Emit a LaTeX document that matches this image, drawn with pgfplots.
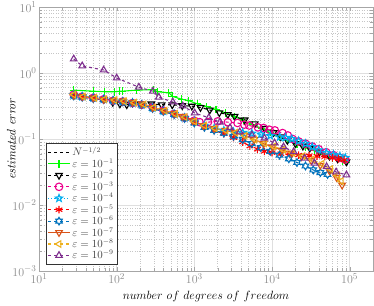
\documentclass[border=0pt]{standalone}
\usepackage{pgfplots}
\pgfplotsset{compat=1.18}
\definecolor{mblue}{rgb}{0,0.447,0.741}
\definecolor{morange}{rgb}{0.85,0.325,0.098}
\definecolor{myellow}{rgb}{0.929,0.694,0.125}
\definecolor{mpurple}{rgb}{0.494,0.184,0.556}
\pgfdeclareplotmark{pentagram}{%
  \pgfpathmoveto{\pgfqpointpolar{90}{\pgfplotmarksize}}%
  \pgfpathlineto{\pgfqpointpolar{126}{0.42\pgfplotmarksize}}%
  \pgfpathlineto{\pgfqpointpolar{162}{\pgfplotmarksize}}%
  \pgfpathlineto{\pgfqpointpolar{198}{0.42\pgfplotmarksize}}%
  \pgfpathlineto{\pgfqpointpolar{234}{\pgfplotmarksize}}%
  \pgfpathlineto{\pgfqpointpolar{270}{0.42\pgfplotmarksize}}%
  \pgfpathlineto{\pgfqpointpolar{306}{\pgfplotmarksize}}%
  \pgfpathlineto{\pgfqpointpolar{342}{0.42\pgfplotmarksize}}%
  \pgfpathlineto{\pgfqpointpolar{18}{\pgfplotmarksize}}%
  \pgfpathlineto{\pgfqpointpolar{54}{0.42\pgfplotmarksize}}%
  \pgfpathclose\pgfusepathqstroke}
\pgfdeclareplotmark{hexagram}{%
  \pgfpathmoveto{\pgfqpointpolar{90}{\pgfplotmarksize}}%
  \pgfpathlineto{\pgfqpointpolar{120}{0.58\pgfplotmarksize}}%
  \pgfpathlineto{\pgfqpointpolar{150}{\pgfplotmarksize}}%
  \pgfpathlineto{\pgfqpointpolar{180}{0.58\pgfplotmarksize}}%
  \pgfpathlineto{\pgfqpointpolar{210}{\pgfplotmarksize}}%
  \pgfpathlineto{\pgfqpointpolar{240}{0.58\pgfplotmarksize}}%
  \pgfpathlineto{\pgfqpointpolar{270}{\pgfplotmarksize}}%
  \pgfpathlineto{\pgfqpointpolar{300}{0.58\pgfplotmarksize}}%
  \pgfpathlineto{\pgfqpointpolar{330}{\pgfplotmarksize}}%
  \pgfpathlineto{\pgfqpointpolar{0}{0.58\pgfplotmarksize}}%
  \pgfpathlineto{\pgfqpointpolar{30}{\pgfplotmarksize}}%
  \pgfpathlineto{\pgfqpointpolar{60}{0.58\pgfplotmarksize}}%
  \pgfpathclose\pgfusepathqstroke}
\begin{document}
\begin{tikzpicture}
\begin{axis}[
  scale only axis, width=334bp, height=264bp,
  xmode=log, ymode=log,
  xmin=10, xmax=2e5, ymin=1e-3, ymax=10,
  xtick={10,100,1000,10000,100000},
  ytick={0.001,0.01,0.1,1,10},
  grid=both,
  major grid style={gray!25, line width=0.7pt},
  minor grid style={gray!45, dotted},
  axis line style={gray!70, line width=0.7pt},
  tick style={gray!70},
  tick label style={text=gray!90, font=\fontsize{13}{15}\selectfont},
  xticklabel style={yshift=1pt},
  yticklabel style={xshift=1pt},
  xlabel={$number\ of\ degrees\ of\ freedom$},
  ylabel={\textit{estimated error}},
  every axis x label/.style={at={(axis description cs:0.5,-0.095)}, anchor=center, font=\fontsize{12.5}{14}\selectfont},
  every axis y label/.style={at={(axis description cs:-0.083,0.5)}, anchor=center, rotate=90, font=\fontsize{12.5}{14}\selectfont},
  every axis plot/.append style={line width=1.1pt, mark size=3.8pt},
  legend style={at={(0.021,0.026)}, anchor=south west, font=\fontsize{10.5}{12}\selectfont,
    draw=black!80, text=black!75, row sep=-2.5pt, inner sep=1.5pt,
    /tikz/every even column/.append style={column sep=0pt}},
  legend cell align=left,
  legend image code/.code={\draw[mark repeat=2,mark phase=2] plot coordinates {(0cm,0cm)(0.38cm,0cm)(0.76cm,0cm)};},
]
\addlegendimage{black, dashed, line width=1.1pt}
\addlegendentry{$N^{-1/2}$}

\addplot[color=green, solid, mark=+] coordinates {
(28,0.55)(50,0.53)(70,0.52)(95,0.52)(110,0.53)(118,0.53)(180,0.55)(300,0.56)(340,0.52)(470,0.50)(530,0.44)(690,0.40)(850,0.38)(1100,0.34)(1450,0.31)(1900,0.28)(2500,0.25)(3300,0.22)(4300,0.19)(5600,0.165)(7300,0.145)(9500,0.125)(12500,0.108)(16000,0.095)(21000,0.083)(27000,0.074)(35000,0.066)(46000,0.058)(60000,0.052)(80000,0.046)(90000,0.044)};
\addlegendentry{$\varepsilon=10^{-1}$}

\addplot[color=black, dashed, mark=triangle, mark options={solid, rotate=180}] coordinates {
(28,0.46)(36,0.44)(50,0.42)(68,0.40)(89,0.36)(110,0.34)(135,0.33)(160,0.35)(200,0.34)(280,0.34)(380,0.33)(520,0.33)(700,0.32)(930,0.315)(1200,0.30)(1580,0.275)(2100,0.25)(2700,0.235)(3300,0.22)(4450,0.195)(6000,0.17)(8000,0.145)(10500,0.125)(13000,0.108)(15800,0.095)(20000,0.085)(25000,0.078)(30700,0.073)(41000,0.0635)(55000,0.055)(70000,0.05)(91000,0.045)};
\addlegendentry{$\varepsilon=10^{-2}$}

\addplot[color=magenta, dashed, mark=o, mark options={solid}] coordinates {
(28,0.47)(36,0.44)(50,0.42)(68,0.40)(90,0.38)(120,0.37)(160,0.35)(210,0.33)(290,0.30)(400,0.27)(550,0.24)(750,0.21)(1000,0.19)(1170,0.18)(1500,0.18)(2000,0.185)(2700,0.18)(3600,0.175)(4400,0.165)(5100,0.16)(6600,0.15)(7800,0.147)(9300,0.138)(10900,0.135)(13700,0.123)(16000,0.113)(18500,0.1)(22000,0.092)(27000,0.085)(33000,0.077)(40000,0.07)(50000,0.063)(62000,0.057)(75000,0.052)(88000,0.049)};
\addlegendentry{$\varepsilon=10^{-3}$}

\addplot[color=cyan, dotted, mark=pentagram, mark options={solid}] coordinates {
(28,0.46)(36,0.44)(50,0.42)(68,0.40)(90,0.385)(120,0.37)(160,0.355)(210,0.33)(290,0.295)(400,0.265)(550,0.24)(750,0.21)(1000,0.185)(1350,0.16)(1800,0.145)(2400,0.135)(3200,0.128)(4200,0.125)(5500,0.122)(7200,0.118)(9500,0.112)(12600,0.107)(15000,0.105)(18000,0.1)(22000,0.093)(27000,0.085)(33000,0.076)(40000,0.068)(50000,0.062)(62000,0.058)(75000,0.055)(88000,0.052)};
\addlegendentry{$\varepsilon=10^{-4}$}

\addplot[color=red, dashed, mark=asterisk, mark options={solid}] coordinates {
(28,0.45)(36,0.43)(50,0.41)(68,0.39)(90,0.38)(120,0.37)(160,0.35)(210,0.33)(290,0.29)(400,0.26)(550,0.235)(750,0.205)(1000,0.175)(1350,0.15)(1800,0.135)(2400,0.12)(3200,0.105)(4200,0.09)(5200,0.078)(6500,0.07)(8000,0.065)(10000,0.062)(13000,0.06)(17000,0.058)(22000,0.057)(30000,0.056)(38000,0.055)(48000,0.054)(60000,0.052)(72000,0.05)(85000,0.048)};
\addlegendentry{$\varepsilon=10^{-5}$}

\addplot[color=mblue, dashed, mark=hexagram, mark options={solid}] coordinates {
(28,0.45)(36,0.43)(50,0.41)(68,0.395)(90,0.38)(120,0.365)(160,0.35)(210,0.33)(290,0.29)(400,0.26)(550,0.235)(750,0.205)(1000,0.175)(1350,0.15)(1800,0.135)(2400,0.123)(3200,0.11)(4200,0.098)(5500,0.085)(7200,0.074)(9500,0.065)(12500,0.057)(16500,0.05)(21000,0.044)(27000,0.039)(34000,0.034)(42000,0.031)(52000,0.029)};
\addlegendentry{$\varepsilon=10^{-6}$}

\addplot[color=morange, solid, mark=triangle, mark options={solid, rotate=180}] coordinates {
(28,0.46)(36,0.44)(50,0.42)(68,0.40)(90,0.39)(120,0.38)(160,0.36)(210,0.34)(290,0.30)(400,0.27)(550,0.245)(700,0.22)(950,0.19)(1300,0.16)(1800,0.145)(2500,0.135)(3300,0.125)(4400,0.113)(5900,0.098)(7800,0.085)(10200,0.076)(13500,0.068)(18000,0.061)(24000,0.054)(32000,0.047)(42000,0.04)(55000,0.033)(68000,0.026)(80000,0.02)};
\addlegendentry{$\varepsilon=10^{-7}$}

\addplot[color=myellow, dashed, mark=triangle, mark options={solid, rotate=90}] coordinates {
(28,0.47)(37,0.44)(52,0.42)(70,0.40)(95,0.39)(125,0.375)(170,0.355)(225,0.335)(300,0.30)(420,0.27)(570,0.24)(760,0.215)(1000,0.185)(1350,0.16)(1850,0.145)(2550,0.135)(3400,0.125)(4500,0.112)(6000,0.098)(8000,0.086)(10500,0.077)(14000,0.069)(18500,0.062)(25000,0.055)(33000,0.049)(44000,0.042)(57000,0.035)(70000,0.028)(78000,0.023)};
\addlegendentry{$\varepsilon=10^{-8}$}

\addplot[color=mpurple, dashed, mark=triangle, mark options={solid}] coordinates {
(28,1.63)(36,1.28)(68,1.11)(100,0.84)(193,0.61)(292,0.53)(349,0.43)(529,0.363)(710,0.316)(1010,0.248)(1540,0.21)(2140,0.18)(2880,0.148)(3850,0.128)(5500,0.115)(8000,0.103)(10800,0.087)(14100,0.076)(19000,0.064)(26400,0.051)(35300,0.043)(50500,0.038)(67000,0.0316)(91000,0.0285)};
\addlegendentry{$\varepsilon=10^{-9}$}
\end{axis}
\pgfresetboundingbox
\path (current axis.south west) ++(-39bp,-35bp) coordinate (bl);
\path (current axis.north east) ++(1bp,7bp) coordinate (tr);
\path[use as bounding box] (bl) rectangle (tr);
\end{tikzpicture}
\end{document}
